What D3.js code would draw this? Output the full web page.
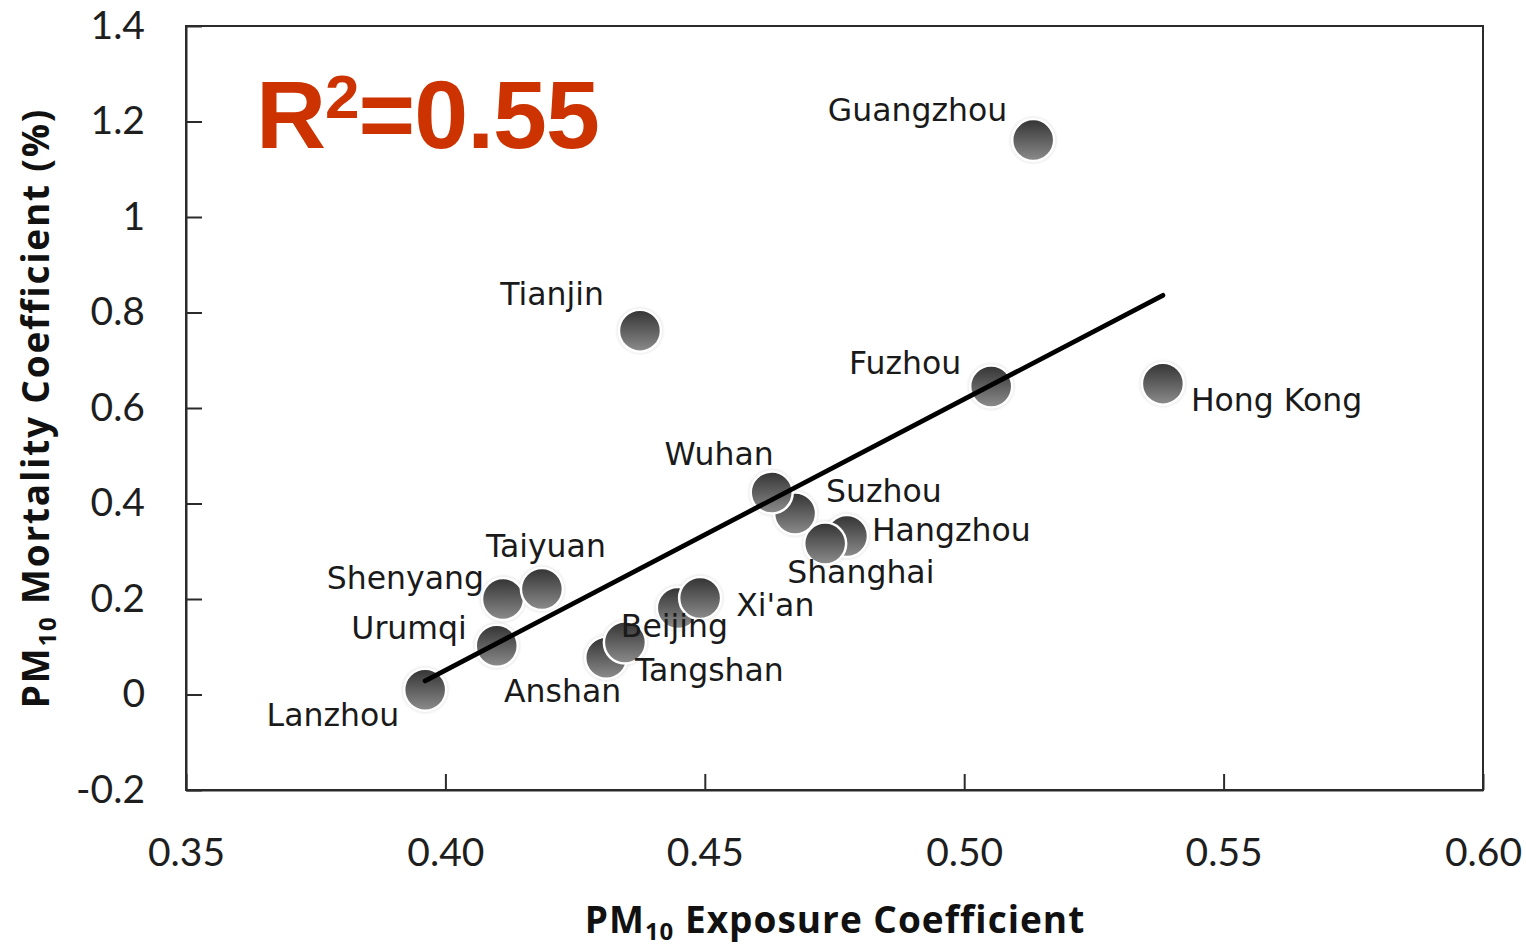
<!DOCTYPE html>
<html>
<head>
<meta charset="utf-8">
<script src="https://cdn.jsdelivr.net/npm/d3@7"></script>
<style>
  html, body { margin: 0; padding: 0; background: #fff; }
  svg { display: block; }
</style>
</head>
<body>
<svg id="chart" width="1526" height="948"></svg>
<script>
// City data: PM10 exposure coefficient vs. PM10 mortality coefficient (%)
// (listed in drawing order, so overlapping markers stack correctly)
const cities    = ["Shenyang", "Taiyuan", "Urumqi", "Lanzhou", "Anshan", "Tangshan", "Beijing", "Xi'an",
                   "Suzhou", "Wuhan", "Hangzhou", "Shanghai", "Tianjin", "Fuzhou", "Guangzhou", "Hong Kong"];
const exposure  = [0.4111, 0.4186, 0.4099, 0.3961, 0.4310, 0.4346, 0.4448, 0.4491,
                   0.4674, 0.4629, 0.4774, 0.4732, 0.4375, 0.5052, 0.5133, 0.5383];
const mortality = [0.200, 0.221, 0.102, 0.010, 0.077, 0.109, 0.181, 0.202,
                   0.379, 0.423, 0.332, 0.316, 0.762, 0.645, 1.161, 0.651];

const xTicks      = [0.35, 0.40, 0.45, 0.50, 0.55, 0.60];
const xTickLabels = ["0.35", "0.40", "0.45", "0.50", "0.55", "0.60"];
const yTicks      = [1.4, 1.2, 1, 0.8, 0.6, 0.4, 0.2, 0, -0.2];
const yTickLabels = ["1.4", "1.2", "1", "0.8", "0.6", "0.4", "0.2", "0", "-0.2"];

// Linear fit drawn across the range of the data
const trendSlope = 5.679;
const trendIntercept = -2.221;
const rSquared = "0.55";

// Label placement: offset from marker centre (px) and text anchor
const labelPlacement = {
  "Guangzhou": [-26, -19, "end"],
  "Tianjin":   [-36, -26, "end"],
  "Fuzhou":    [-30, -13, "end"],
  "Hong Kong": [ 28,  27, "start"],
  "Wuhan":     [  2, -28, "end"],
  "Suzhou":    [ 31, -12, "start"],
  "Hangzhou":  [ 25,   5, "start"],
  "Shanghai":  [-38,  39, "start"],
  "Xi'an":     [ 36,  18, "start"],
  "Beijing":   [-57,  29, "start"],
  "Tangshan":  [ 10,  39, "start"],
  "Anshan":    [ 15,  44, "end"],
  "Taiyuan":   [-56, -32, "start"],
  "Shenyang":  [-19, -10, "end"],
  "Urumqi":    [-30,  -7, "end"],
  "Lanzhou":   [-26,  36, "end"]
};

const svg = d3.select("#chart");
const margin = { left: 186, right: 1483, top: 26, bottom: 790 };

const x = d3.scaleLinear().domain([0.35, 0.60]).range([margin.left, margin.right]);
const y = d3.scaleLinear().domain([-0.2, 1.4]).range([margin.bottom, margin.top]);

const points = cities.map((c, i) => ({ name: c, ex: exposure[i], mo: mortality[i] }));

// Marker shading
const defs = svg.append("defs");
const grad = defs.append("linearGradient")
  .attr("id", "markerFill").attr("x1", 0).attr("y1", 0).attr("x2", 0).attr("y2", 1);
grad.append("stop").attr("offset", "0%").attr("stop-color", "#333333");
grad.append("stop").attr("offset", "100%").attr("stop-color", "#8c8c8c");
const glow = defs.append("filter").attr("id", "halo").attr("x", "-50%").attr("y", "-50%")
  .attr("width", "200%").attr("height", "200%");
glow.append("feGaussianBlur").attr("stdDeviation", 1.2);

// Plot frame
svg.append("rect")
  .attr("x", margin.left).attr("y", margin.top)
  .attr("width", margin.right - margin.left).attr("height", margin.bottom - margin.top)
  .attr("fill", "none").attr("stroke", "#2b2b2b").attr("stroke-width", 2);

// Axes (ticks point into the plot)
const tickFont = "Lato, 'Open Sans', sans-serif";
const xAxis = d3.axisBottom(x)
  .tickValues(xTicks)
  .tickFormat((d, i) => xTickLabels[i])
  .tickSize(-16).tickSizeOuter(0).tickPadding(48);
const yAxis = d3.axisLeft(y)
  .tickValues(yTicks)
  .tickFormat((d, i) => yTickLabels[i])
  .tickSize(-16).tickSizeOuter(0).tickPadding(41);

const gx = svg.append("g").attr("transform", `translate(0,${margin.bottom})`).call(xAxis);
const gy = svg.append("g").attr("transform", `translate(${margin.left},0)`).call(yAxis);
[gx, gy].forEach(g => {
  g.select(".domain").attr("stroke", "#2b2b2b").attr("stroke-width", 2);
  g.selectAll(".tick line").attr("stroke", "#2b2b2b").attr("stroke-width", 2);
  g.selectAll(".tick text")
    .attr("font-family", tickFont).attr("font-size", 39).attr("fill", "#1e1e1e");
});

// Markers
const markers = svg.append("g");
markers.selectAll("circle.halo")
  .data(points).join("circle").attr("class", "halo")
  .attr("cx", d => x(d.ex)).attr("cy", d => y(d.mo)).attr("r", 23.5)
  .attr("fill", "#d8d8d8").attr("opacity", 0.5).attr("filter", "url(#halo)");
markers.selectAll("circle.dot")
  .data(points).join("circle").attr("class", "dot")
  .attr("cx", d => x(d.ex)).attr("cy", d => y(d.mo)).attr("r", 21)
  .attr("fill", "url(#markerFill)").attr("stroke", "#fff").attr("stroke-width", 2.5);

// Trend line
const xMin = d3.min(exposure), xMax = d3.max(exposure);
svg.append("line")
  .attr("x1", x(xMin)).attr("y1", y(trendSlope * xMin + trendIntercept))
  .attr("x2", x(xMax)).attr("y2", y(trendSlope * xMax + trendIntercept))
  .attr("stroke", "#000").attr("stroke-width", 4.8).attr("stroke-linecap", "round");

// City labels
svg.append("g").selectAll("text")
  .data(points).join("text")
  .attr("x", d => x(d.ex) + labelPlacement[d.name][0])
  .attr("y", d => y(d.mo) + labelPlacement[d.name][1])
  .attr("text-anchor", d => labelPlacement[d.name][2])
  .attr("font-family", "'DejaVu Sans', Verdana, sans-serif")
  .attr("font-size", 31.5)
  .attr("fill", "#1a1a1a")
  .text(d => d.name);

// Coefficient of determination
const r2 = svg.append("text")
  .attr("x", 256).attr("y", 148)
  .attr("font-family", "'Liberation Sans', Arial, sans-serif")
  .attr("font-weight", "bold").attr("font-size", 97)
  .attr("letter-spacing", -1)
  .attr("fill", "#cc3300");
r2.append("tspan").text("R");
r2.append("tspan").attr("font-size", 62).attr("dy", -30).text("2");
r2.append("tspan").attr("dy", 30).text("=" + rSquared);

// Axis titles
const titleFont = "'Open Sans', Lato, sans-serif";
const xTitle = svg.append("text")
  .attr("x", 835).attr("y", 933).attr("text-anchor", "middle")
  .attr("font-family", titleFont).attr("font-weight", "bold").attr("font-size", 37)
  .attr("letter-spacing", 1)
  .attr("fill", "#111");
xTitle.append("tspan").text("PM");
xTitle.append("tspan").attr("font-size", 24).attr("dy", 7).text("10");
xTitle.append("tspan").attr("dy", -7).text(" Exposure Coefficient");

const yTitle = svg.append("text")
  .attr("transform", "translate(49,408) rotate(-90)")
  .attr("text-anchor", "middle")
  .attr("font-family", titleFont).attr("font-weight", "bold").attr("font-size", 37)
  .attr("letter-spacing", 1.8)
  .attr("fill", "#111");
yTitle.append("tspan").text("PM");
yTitle.append("tspan").attr("font-size", 24).attr("dy", 7).text("10");
yTitle.append("tspan").attr("dy", -7).text(" Mortality Coefficient (%)");
</script>
</body>
</html>
